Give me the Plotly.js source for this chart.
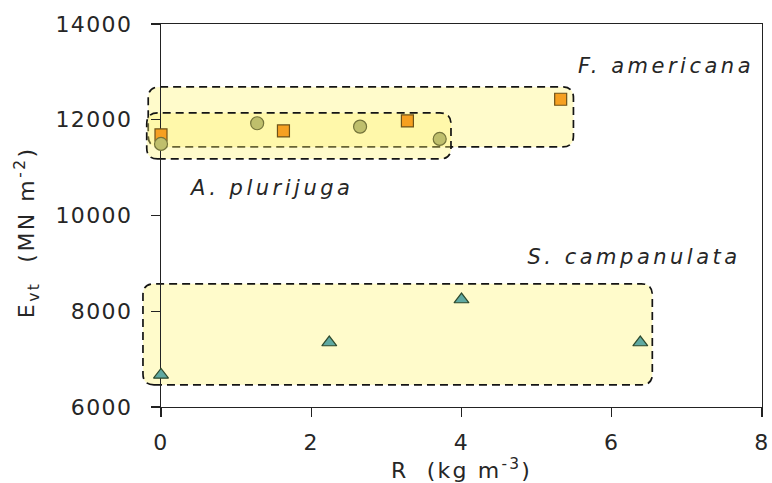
<!DOCTYPE html>
<html>
<head>
<meta charset="utf-8">
<script src="https://cdn.plot.ly/plotly-3.0.1.min.js"></script>
<style>
  html, body { margin: 0; padding: 0; background: #fff; }
  #chart { width: 772px; height: 483px; }
  .xtick text, .ytick text { letter-spacing: 1.4px; }
</style>
</head>
<body>
<div id="chart"></div>
<script>
// ---- data ----
const famX = [0, 1.63, 3.28, 5.32];          // F. americana, R (kg m-3)
const famY = [11683, 11766, 11975, 12428];   // Evt (MN m-2)
const aplX = [0, 1.28, 2.65, 3.71];          // A. plurijuga
const aplY = [11495, 11927, 11856, 11599];
const scaX = [0, 2.24, 4.0, 6.38];           // S. campanulata
const scaY = [6670, 7347, 8245, 7347];

// group envelopes (data units)
const boxFamX = [-0.17, 5.49], boxFamY = [11432, 12685];
const boxAplX = [-0.19, 3.86], boxAplY = [11182, 12142];
const boxScaX = [-0.24, 6.54], boxScaY = [6463, 8572];

const xTicks = [0, 2, 4, 6, 8];
const yTicks = [6000, 8000, 10000, 12000, 14000];
const labels = ['F. americana', 'A. plurijuga', 'S. campanulata'];

// ---- layout geometry ----
const W = 772, H = 483;
const M = {l: 161, r: 10, t: 24, b: 76};
const pw = W - M.l - M.r, ph = H - M.t - M.b;
const xRange = [0, 8], yRange = [6000, 14000];
const toPX = v => (v - xRange[0]) / (xRange[1] - xRange[0]);
const toPY = v => (v - yRange[0]) / (yRange[1] - yRange[0]);

function roundBox(xs, ys, rpx) {
  const x0 = toPX(xs[0]), x1 = toPX(xs[1]), y0 = toPY(ys[0]), y1 = toPY(ys[1]);
  const rx = rpx / pw, ry = rpx / ph;
  return `M ${x0 + rx},${y0} L ${x1 - rx},${y0} Q ${x1},${y0} ${x1},${y0 + ry} ` +
         `L ${x1},${y1 - ry} Q ${x1},${y1} ${x1 - rx},${y1} ` +
         `L ${x0 + rx},${y1} Q ${x0},${y1} ${x0},${y1 - ry} ` +
         `L ${x0},${y0 + ry} Q ${x0},${y0} ${x0 + rx},${y0} Z`;
}

const boxLine = {color: '#141414', width: 1.7, dash: '8px,5px'};
const boxFill = 'rgba(255,245,110,0.36)';
const shapes = [
  [boxFamX, boxFamY], [boxAplX, boxAplY], [boxScaX, boxScaY]
].map(([bx, by]) => ({
  type: 'path', xref: 'paper', yref: 'paper', layer: 'below',
  path: roundBox(bx, by, 11), fillcolor: boxFill, line: boxLine
}));

const traces = [
  {x: famX, y: famY, type: 'scatter', mode: 'markers', name: labels[0], cliponaxis: false,
   marker: {symbol: 'square', size: 12, color: '#F6A021', line: {color: '#6e5218', width: 1.2}}},
  {x: aplX, y: aplY, type: 'scatter', mode: 'markers', name: labels[1], cliponaxis: false,
   marker: {symbol: 'circle', size: 13, color: '#BFBF6C', line: {color: '#74743a', width: 1.2}}},
  {x: scaX, y: scaY, type: 'scatter', mode: 'markers', name: labels[2], cliponaxis: false,
   marker: {symbol: 'triangle-up', size: 13, color: '#5FA9A2', line: {color: '#2e4a2e', width: 1.2}}}
];

const txtColor = '#262626';
const font = 'DejaVu Sans, Verdana, sans-serif';
const annotations = [
  {x: 6.72, y: 13123, xref: 'x', yref: 'y', text: labels[0], showarrow: false,
   font: {family: font, size: 21, style: 'italic', color: txtColor}},
  {x: 1.47, y: 10574, xref: 'x', yref: 'y', text: labels[1], showarrow: false,
   font: {family: font, size: 21, style: 'italic', color: txtColor}},
  {x: 6.29, y: 9133, xref: 'x', yref: 'y', text: labels[2], showarrow: false,
   font: {family: font, size: 21, style: 'italic', color: txtColor}},
  {x: 0.5, y: -78 / ph, xref: 'paper', yref: 'paper', text: 'R\u00a0\u00a0(kg m<sup>-3</sup>)',
   showarrow: false, font: {family: font, size: 22, color: txtColor}},
  {x: (9 - M.l) / pw, y: (407 - 233) / ph, xref: 'paper', yref: 'paper', textangle: -90,
   text: 'E<sub>vt</sub>\u00a0\u00a0(MN m<sup>-2</sup>)',
   showarrow: false, font: {family: font, size: 22, color: txtColor}}
];

const axisCommon = {
  showgrid: false, zeroline: false, showline: true, mirror: true,
  linecolor: '#222', linewidth: 1.2, ticks: 'outside', ticklen: 9, tickwidth: 1.2,
  tickcolor: '#222', layer: 'below traces',
  tickfont: {family: font, size: 22, color: txtColor}
};

const layout = {
  width: W, height: H, margin: M, showlegend: false,
  paper_bgcolor: '#ffffff', plot_bgcolor: 'rgba(0,0,0,0)',
  xaxis: Object.assign({}, axisCommon, {range: xRange, tickvals: xTicks, ticklabelstandoff: 6}),
  yaxis: Object.assign({}, axisCommon, {range: yRange, tickvals: yTicks, tickformat: 'd', ticklabelstandoff: 14}),
  shapes: shapes, annotations: annotations
};

Plotly.newPlot('chart', traces, layout, {staticPlot: true}).then(() => {
  const spacing = [3.5, 3.5, 3.5, 2.2, 2.5];
  document.querySelectorAll('.annotation-text').forEach((el, i) => {
    el.style.letterSpacing = (spacing[i] || 0) + 'px';
  });
});
</script>
</body>
</html>
